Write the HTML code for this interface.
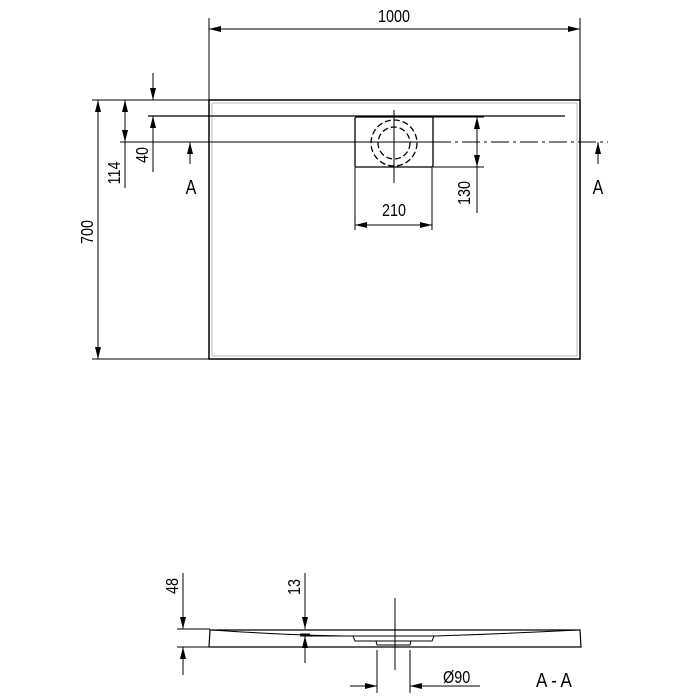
<!DOCTYPE html>
<html><head><style>body{margin:0;background:#fff}svg{display:block}</style></head><body>
<svg width="700" height="700" viewBox="0 0 700 700" xmlns="http://www.w3.org/2000/svg" font-family="Liberation Sans, sans-serif" fill="none" stroke="#000">
<defs>
<marker id="a" viewBox="0 0 12 6" refX="12" refY="3" markerWidth="12" markerHeight="6" orient="auto-start-reverse" markerUnits="userSpaceOnUse"><path d="M0,0L12,3L0,6z" fill="#000" stroke="none"/></marker>
</defs>
<g stroke-width="1">
<line x1="209" y1="18" x2="209" y2="100"/><line x1="580" y1="18" x2="580" y2="100"/>
<line x1="209" y1="29" x2="580" y2="29" marker-start="url(#a)" marker-end="url(#a)"/>
<rect x="209" y="100" width="371" height="259" stroke-width="1.5"/>
<rect x="212" y="103" width="365" height="253" stroke="#aaa" stroke-width="0.8"/>
<line x1="148" y1="116" x2="565" y2="116" stroke-width="1.2"/>
<rect x="355" y="117" width="78" height="50" rx="1.5" stroke-width="1.3"/>
<circle cx="394" cy="143" r="23" stroke-dasharray="6,3" stroke-width="1.3"/>
<circle cx="394" cy="143" r="16" stroke-dasharray="6,3" stroke-width="1.3"/>
<line x1="394" y1="110" x2="394" y2="183"/>
<line x1="120" y1="142" x2="433" y2="142"/>
<line x1="433" y1="142" x2="608" y2="142" stroke-dasharray="18,4,3,4"/>
<line x1="433" y1="117" x2="484" y2="117"/><line x1="433" y1="167" x2="484" y2="167"/>
<line x1="477" y1="117" x2="477" y2="213"/><line x1="477" y1="117" x2="477" y2="167" marker-start="url(#a)" marker-end="url(#a)"/>
<line x1="355" y1="167" x2="355" y2="230"/><line x1="432" y1="167" x2="432" y2="230"/>
<line x1="355" y1="225" x2="432" y2="225" marker-start="url(#a)" marker-end="url(#a)"/>
<line x1="92" y1="100" x2="209" y2="100"/><line x1="92" y1="359" x2="209" y2="359"/>
<line x1="98" y1="100" x2="98" y2="359" marker-start="url(#a)" marker-end="url(#a)"/>
<line x1="125" y1="100" x2="125" y2="188"/>
<line x1="125" y1="100" x2="125" y2="142" marker-start="url(#a)" marker-end="url(#a)"/>
<line x1="153" y1="73" x2="153" y2="100" marker-end="url(#a)"/>
<line x1="153" y1="172" x2="153" y2="116" marker-end="url(#a)"/>
<line x1="190" y1="164" x2="190" y2="142" marker-end="url(#a)"/>
<line x1="598" y1="164" x2="598" y2="142" marker-end="url(#a)"/>
</g>
<g fill="#000" stroke="none" font-size="18">
<text transform="translate(394,22) scale(0.8,1)" text-anchor="middle">1000</text>
<text transform="translate(394,216) scale(0.8,1)" text-anchor="middle">210</text>
<text transform="translate(191,194) scale(0.8,1)" text-anchor="middle" font-size="20">A</text>
<text transform="translate(598,194) scale(0.8,1)" text-anchor="middle" font-size="20">A</text>
<text transform="translate(470,193) rotate(-90) scale(0.8,1)" text-anchor="middle">130</text>
<text transform="translate(93,232) rotate(-90) scale(0.8,1)" text-anchor="middle">700</text>
<text transform="translate(120,173) rotate(-90) scale(0.8,1)" text-anchor="middle">114</text>
<text transform="translate(148,155) rotate(-90) scale(0.8,1)" text-anchor="middle">40</text>
<text transform="translate(178,586) rotate(-90) scale(0.8,1)" text-anchor="middle">48</text>
<text transform="translate(300,587) rotate(-90) scale(0.8,1)" text-anchor="middle">13</text>
<text transform="translate(443,683) scale(0.8,1)">Ø90</text>
<text transform="translate(536,687) scale(0.85,1)" font-size="20">A - A</text>
</g>
<g stroke-width="1">
<path d="M210,630 L580,630 L581,647 L209,647 Z" stroke-width="1.2"/>
<path d="M212,630 Q300,636 355,636 L435,636 Q500,634 578,630" stroke-width="1"/>
<line x1="300" y1="636" x2="355" y2="636"/>
<path d="M353,636 L355,641 L432,641 L434,636"/>
<path d="M376,641 L377,645 L410,645 L411,641"/>
<line x1="395" y1="598" x2="395" y2="670"/>
<line x1="177" y1="629" x2="210" y2="629"/><line x1="177" y1="647" x2="210" y2="647"/>
<line x1="183" y1="573" x2="183" y2="629" marker-end="url(#a)"/>
<line x1="183" y1="675" x2="183" y2="647" marker-end="url(#a)"/>
<line x1="305" y1="573" x2="305" y2="629" marker-end="url(#a)"/>
<line x1="305" y1="663" x2="305" y2="636" marker-end="url(#a)"/>
<line x1="300" y1="634" x2="310" y2="634"/>
<line x1="377" y1="650" x2="377" y2="693"/><line x1="410" y1="650" x2="410" y2="693"/>
<line x1="350" y1="686" x2="377" y2="686" marker-end="url(#a)"/>
<line x1="480" y1="686" x2="410" y2="686" marker-end="url(#a)"/>
</g>
</svg>
</body></html>
